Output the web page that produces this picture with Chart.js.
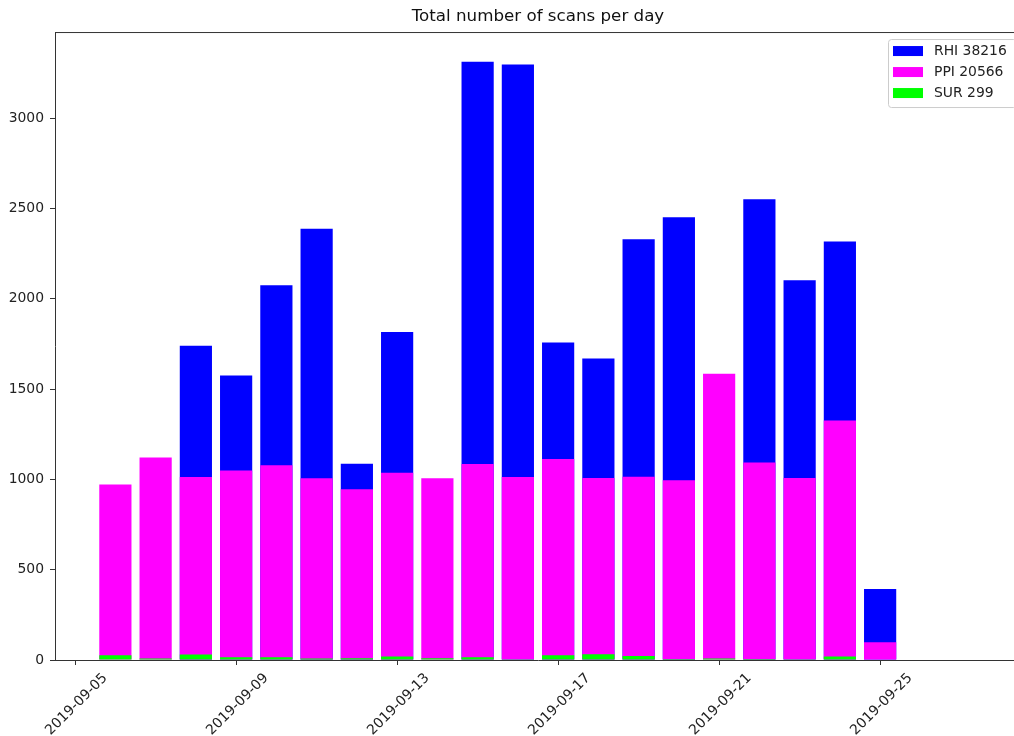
<!DOCTYPE html>
<html>
<head>
<meta charset="utf-8">
<script src="https://cdn.jsdelivr.net/npm/chart.js@4/dist/chart.umd.min.js"></script>
<style>
  html, body { margin: 0; padding: 0; background: #fff; overflow: hidden; }
  #wrap { width: 1024px; height: 736px; }
</style>
</head>
<body>
<div id="wrap"><canvas id="grafico" width="1024" height="736"></canvas></div>
<script>
// days with scans (bars centred on each date)
const fechas = ['2019-09-06', '2019-09-07', '2019-09-08', '2019-09-09', '2019-09-10',
                '2019-09-11', '2019-09-12', '2019-09-13', '2019-09-14', '2019-09-15',
                '2019-09-16', '2019-09-17', '2019-09-18', '2019-09-19', '2019-09-20',
                '2019-09-21', '2019-09-22', '2019-09-23', '2019-09-24', '2019-09-25'];

// scans per day, bars overlap from zero (RHI behind, SUR in front)
const rhi = [0, 0, 1739, 1575, 2075, 2387, 1087, 1816, 0, 3311,
             3297, 1757, 1669, 2329, 2451, 0, 2551, 2102, 2317, 393];
const ppi = [971, 1121, 1013, 1049, 1078, 1006, 945, 1036, 1006, 1085,
             1013, 1113, 1008, 1015, 995, 1584, 1093, 1008, 1326, 98];
const sur = [26, 8, 30, 15, 15, 8, 9, 20, 9, 15,
             4, 26, 32, 22, 5, 8, 5, 2, 19, 0];

const etiquetasSerie = ['RHI 38216', 'PPI 20566', 'SUR 299'];
const etiquetasX = ['2019-09-05', '2019-09-09', '2019-09-13', '2019-09-17', '2019-09-21', '2019-09-25'];
const etiquetasY = [0, 500, 1000, 1500, 2000, 2500, 3000];

// day number counted from 2019-09-05
const origen = Date.parse('2019-09-05T00:00:00Z');
const aDia = f => (Date.parse(f + 'T00:00:00Z') - origen) / 86400000;
const aFecha = d => new Date(origen + d * 86400000).toISOString().slice(0, 10);

const puntos = serie => fechas.map((f, i) => ({ x: aDia(f), y: serie[i] }));

const fuente = 'DejaVu Sans';
const colorTexto = '#222';
const colorEje = '#333';

// legend box inside the axes, top right
const leyendaDentro = {
    id: 'leyendaDentro',
    afterDraw(chart) {
        const ctx = chart.ctx;
        const area = chart.chartArea;
        const x0 = area.right - 133, y0 = area.top + 7, w = 128, h = 68;
        ctx.save();
        ctx.fillStyle = 'rgba(255,255,255,0.8)';
        ctx.strokeStyle = '#cccccc';
        ctx.lineWidth = 1;
        ctx.beginPath();
        ctx.roundRect(x0 + 0.5, y0 + 0.5, w, h, 3);
        ctx.fill();
        ctx.stroke();
        ctx.font = '13.9px "' + fuente + '"';
        ctx.textBaseline = 'middle';
        chart.data.datasets.forEach((ds, i) => {
            const yc = y0 + 12 + i * 21;
            ctx.fillStyle = ds.backgroundColor;
            ctx.fillRect(x0 + 5, yc - 5, 30, 10);
            ctx.fillStyle = colorTexto;
            ctx.fillText(ds.label, x0 + 46, yc);
        });
        ctx.restore();
    }
};

// top spine
const bordeSuperior = {
    id: 'bordeSuperior',
    afterDatasetsDraw(chart) {
        const ctx = chart.ctx;
        const area = chart.chartArea;
        ctx.save();
        ctx.strokeStyle = colorEje;
        ctx.lineWidth = 1;
        ctx.beginPath();
        ctx.moveTo(area.left, area.top + 0.5);
        ctx.lineTo(area.right, area.top + 0.5);
        ctx.stroke();
        ctx.restore();
    }
};

const grafico = new Chart(document.getElementById('grafico'), {
    type: 'bar',
    data: {
        datasets: [
            { label: etiquetasSerie[0], data: puntos(rhi), backgroundColor: '#0000ff', order: 3 },
            { label: etiquetasSerie[1], data: puntos(ppi), backgroundColor: '#ff00ff', order: 2 },
            { label: etiquetasSerie[2], data: puntos(sur), backgroundColor: '#00ff00', order: 1 }
        ]
    },
    options: {
        responsive: false,
        animation: false,
        devicePixelRatio: 1,
        layout: { padding: { left: 0, right: 3, top: 0, bottom: 0 } },
        datasets: {
            bar: {
                grouped: false,
                barPercentage: 0.8,
                categoryPercentage: 1.0,
                borderWidth: 0
            }
        },
        scales: {
            x: {
                type: 'linear',
                min: -0.5,
                max: 23.5,
                offset: false,
                afterBuildTicks: eje => { eje.ticks = etiquetasX.map(f => ({ value: aDia(f) })); },
                afterFit: eje => { eje.height = 76; },
                grid: { offset: false, drawOnChartArea: false, drawTicks: true, tickLength: 5, color: colorEje },
                border: { display: true, color: colorEje, width: 1 },
                ticks: {
                    autoSkip: false,
                    minRotation: 45,
                    maxRotation: 45,
                    labelOffset: 30,
                    padding: 5,
                    color: colorTexto,
                    font: { family: fuente, size: 13.9 },
                    callback: v => aFecha(v)
                }
            },
            y: {
                min: 0,
                max: 3476,
                afterBuildTicks: eje => { eje.ticks = etiquetasY.map(v => ({ value: v })); },
                afterFit: eje => { eje.width = 55; },
                grid: { drawOnChartArea: false, drawTicks: true, tickLength: 5, color: colorEje },
                border: { display: true, color: colorEje, width: 1 },
                ticks: {
                    padding: 6,
                    color: colorTexto,
                    font: { family: fuente, size: 13.9 },
                    callback: v => String(v)
                }
            }
        },
        plugins: {
            legend: { display: false },
            tooltip: { enabled: false },
            title: {
                display: true,
                fullSize: false,
                text: 'Total number of scans per day',
                color: '#111',
                font: { family: fuente, size: 16.7, weight: 'normal' },
                padding: { top: 7, bottom: 5 }
            }
        }
    },
    plugins: [leyendaDentro, bordeSuperior]
});
</script>
</body>
</html>
